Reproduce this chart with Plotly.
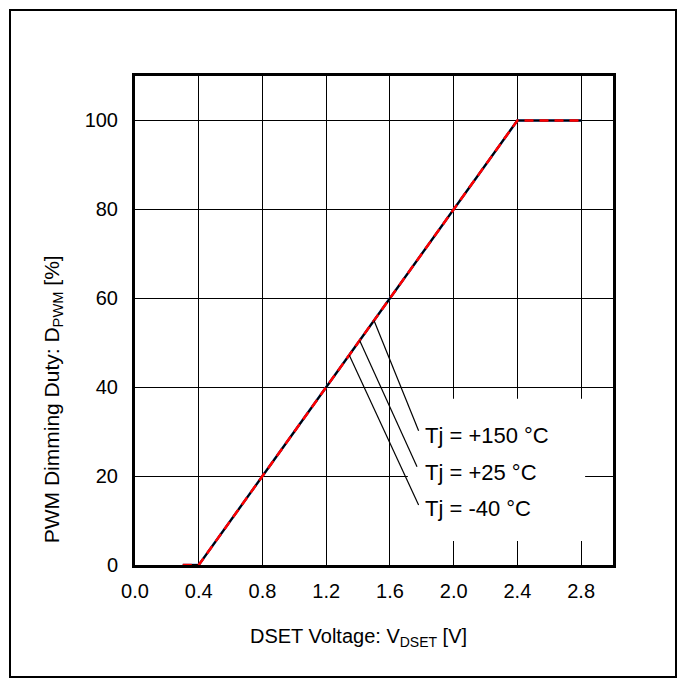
"""PWM dimming duty vs DSET voltage — datasheet characteristic curve redrawn with Plotly."""
import plotly.graph_objects as go

# ---------------------------------------------------------------------------
# Data
# ---------------------------------------------------------------------------
VDSET = [0.3, 0.4, 0.8, 1.2, 1.6, 2.0, 2.4, 2.8]          # V
DUTY_TJ_150 = [0, 0, 20, 40, 60, 80, 100, 100]            # %
DUTY_TJ_25 = [0, 0, 20, 40, 60, 80, 100, 100]
DUTY_TJ_M40 = [0, 0, 20, 40, 60, 80, 100, 100]

X_TICKS = [0.0, 0.4, 0.8, 1.2, 1.6, 2.0, 2.4, 2.8]
X_TICK_LABELS = ["0.0", "0.4", "0.8", "1.2", "1.6", "2.0", "2.4", "2.8"]
Y_TICKS = [0, 20, 40, 60, 80, 100]
Y_TICK_LABELS = ["0", "20", "40", "60", "80", "100"]

CURVE_LABELS = ["Tj = +150 °C", "Tj = +25 °C", "Tj = -40 °C"]

FONT = "Liberation Sans, Arial, sans-serif"

# ---------------------------------------------------------------------------
# Figure
# ---------------------------------------------------------------------------
fig = go.Figure()

# blue at the bottom, black over it, red dashed on top
fig.add_trace(go.Scatter(x=VDSET, y=DUTY_TJ_150, mode="lines",
                         line=dict(color="#1f5fbf", width=2.5), name=CURVE_LABELS[0]))
fig.add_trace(go.Scatter(x=VDSET, y=DUTY_TJ_25, mode="lines",
                         line=dict(color="black", width=2), name=CURVE_LABELS[1]))
fig.add_trace(go.Scatter(x=VDSET, y=DUTY_TJ_M40, mode="lines",
                         line=dict(color="#ff0000", width=2.5, dash="9px,6px"),
                         name=CURVE_LABELS[2]))

# white label box that blanks the grid behind the labels
fig.add_shape(type="rect", x0=1.7125, x1=2.825, y0=5.4, y1=37.4,
              fillcolor="white", line=dict(width=0), layer="between")

# leader lines: curve point -> label
leaders = [((1.50, 55.0), (1.78, 30.2)),
           ((1.41, 50.5), (1.77, 22.1)),
           ((1.345, 47.2), (1.78, 13.5))]
label_y = [29.2, 20.9, 12.6]
for ((x0, y0), (x1, y1)), text, ly in zip(leaders, CURVE_LABELS, label_y):
    fig.add_shape(type="line", x0=x0, y0=y0, x1=x1, y1=y1,
                  line=dict(color="black", width=1.2), layer="above")
    fig.add_annotation(x=1.81, y=ly, text=text, showarrow=False,
                       xanchor="left", yanchor="middle",
                       font=dict(family=FONT, size=22, color="black"))

# axis titles
fig.add_annotation(x=1.4, xref="x", y=-0.149, yref="paper",
                   text="DSET Voltage: V<sub>DSET</sub> [V]", showarrow=False,
                   xanchor="center", yanchor="middle",
                   font=dict(family=FONT, size=20, color="black"))
fig.add_annotation(x=-0.1715, xref="paper", y=0.339, yref="paper",
                   text="PWM Dimming Duty: D<sub>PWM</sub> [%]", showarrow=False,
                   textangle=-90, xanchor="center", yanchor="middle",
                   font=dict(family=FONT, size=21, color="black"))

# outer frame round the whole picture
fig.add_shape(type="rect", xref="paper", yref="paper",
              x0=-0.2615, x1=1.1318, y0=-0.229, y1=1.135,
              line=dict(color="black", width=2), fillcolor="rgba(0,0,0,0)")

axis_common = dict(
    showgrid=True, gridcolor="black", gridwidth=1,
    showline=True, linecolor="black", linewidth=3, mirror=True,
    ticks="", zeroline=False, layer="below traces",
    tickfont=dict(family=FONT, size=20, color="black"),
)
fig.update_xaxes(range=[0, 3.0], tickvals=X_TICKS, ticktext=X_TICK_LABELS,
                 ticklabelstandoff=6, **axis_common)
fig.update_yaxes(range=[0, 110], tickvals=Y_TICKS, ticktext=Y_TICK_LABELS,
                 ticklabelstandoff=10, **axis_common)

# the page body adds 8 px of margin, so the figure is 8 px smaller and shifted
fig.update_layout(
    width=677, height=678,
    margin=dict(l=127, r=72, t=68, b=121),
    plot_bgcolor="white", paper_bgcolor="white",
    showlegend=False,
    font=dict(family=FONT, color="black"),
)

fig.write_html("out.html")
